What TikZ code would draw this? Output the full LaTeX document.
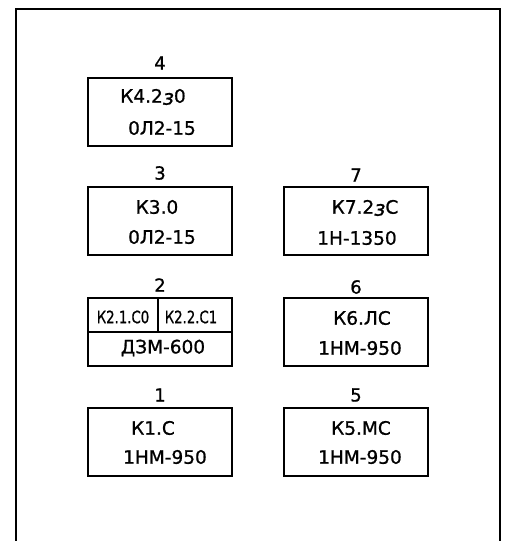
\documentclass[tikz,border=0pt]{standalone}
\usepackage{fontspec}
\setmainfont{DejaVu Sans}[FakeBold=0.9]
\usepackage{graphicx}
\newcommand{\zeglyph}{\raisebox{-2pt}{\fontsize{21}{21}\selectfont\itshape з}}
\begin{document}
\begin{tikzpicture}[x=1pt,y=-1pt,
  box/.style={draw, line width=1.8pt, minimum width=144pt, minimum height=68pt, inner sep=0pt},
  num/.style={font=\fontsize{18}{18}\selectfont, inner sep=0pt},
  txt/.style={font=\fontsize{18.5}{18.5}\selectfont, inner sep=0pt},
  smalltxt/.style={font=\fontsize{17}{17}\selectfont, inner sep=0pt},
  divider/.style={line width=1.6pt}]
\useasboundingbox (0,0) rectangle (507,541);
\draw[line width=2pt] (16,541) -- (16,9) -- (500,9) -- (500,541);
% left column
\node[box] (b4) at (160,112) {};
\node[box] (b3) at (160,221) {};
\node[box] (b2) at (160,332) {};
\node[box] (b1) at (160,442) {};
% right column
\node[box] (b7) at (356,221) {};
\node[box] (b6) at (356,332) {};
\node[box] (b5) at (356,442) {};
% numbers
\node[num] (n4) at (160,63) {4};
\node[num] (n3) at (160,173) {3};
\node[num] (n2) at (160,285) {2};
\node[num] (n1) at (160,395) {1};
\node[num] (n7) at (356,175) {7};
\node[num] (n6) at (356,287) {6};
\node[num] (n5) at (356,395) {5};
% texts
\node[txt] (t4a) at (153,97) {К4.2\zeglyph0};
\node[txt] (t4b) at (162,128) {0Л2-15};
\node[txt] (t3a) at (157,207) {К3.0};
\node[txt] (t3b) at (162,237) {0Л2-15};
\node[txt] (t7a) at (365,208) {К7.2\zeglyph С};
\node[txt] (t7b) at (357,238) {1Н-1350};
\node[smalltxt] (t2a) at (123,317) {\scalebox{0.78}[1]{К2.1.С0}};
\node[smalltxt] (t2b) at (191,317) {\scalebox{0.78}[1]{К2.2.С1}};
\node[txt] (t2c) at (163,348) {ДЗМ-600};
\node[txt] (t6a) at (362,318) {К6.ЛС};
\node[txt] (t6b) at (360,348) {1НМ-950};
\node[txt] (t1a) at (153,428) {К1.С};
\node[txt] (t1b) at (165,457) {1НМ-950};
\node[txt] (t5a) at (361,428) {К5.МС};
\node[txt] (t5b) at (360,457) {1НМ-950};
% dividers of box 2
\draw[divider] (b2.west |- 0,332) -- (b2.east |- 0,332);
\draw[divider] (b2.north -| 158,0) -- (158,332);
\end{tikzpicture}
\end{document}
